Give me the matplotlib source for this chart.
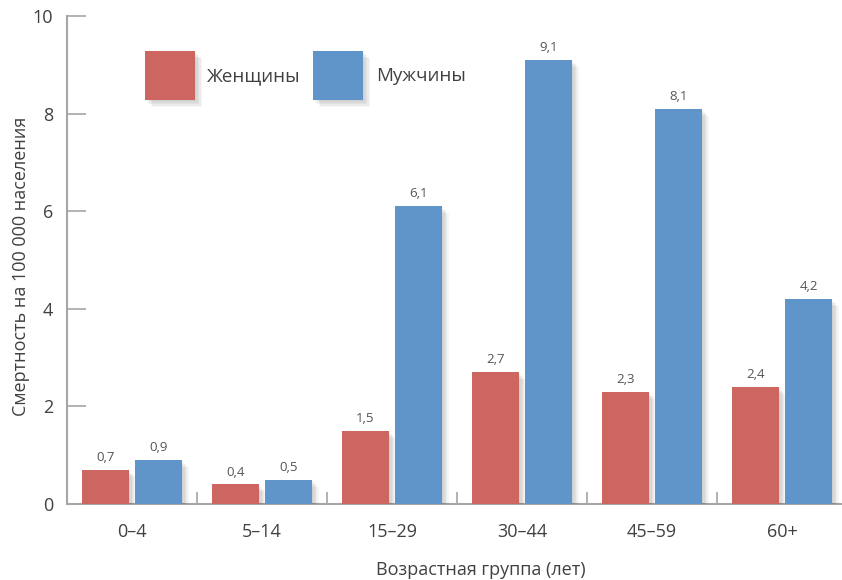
import matplotlib
matplotlib.use("Agg")
import matplotlib.pyplot as plt
import matplotlib.patheffects as pe
from matplotlib.patches import Rectangle
import numpy as np

plt.rcParams['font.family'] = ['Open Sans', 'DejaVu Sans']

categories = ["0–4", "5–14", "15–29", "30–44", "45–59", "60+"]
women = [0.7, 0.4, 1.5, 2.7, 2.3, 2.4]
men = [0.9, 0.5, 6.1, 9.1, 8.1, 4.2]
series_names = ["Женщины", "Мужчины"]
y_label = "Смертность на 100 000 населения"
x_label = "Возрастная группа (лет)"

RED = "#cd6660"
BLUE = "#5f95c8"
TEXT = "#404040"
AXIS = "#a6a6a6"

fig = plt.figure(figsize=(8.42, 5.8), dpi=100)
ax = fig.add_axes([67 / 842, 1 - 504 / 580, 780 / 842, (504 - 16) / 580])

x = np.arange(len(categories))
w = 0.36
off = 0.204

# soft drop shadow built from a few faint offset copies
shadow = [pe.SimplePatchShadow(offset=(d, -d), shadow_rgbFace="#000000", alpha=0.04)
          for d in (1, 2, 3, 4, 5)] + [pe.Normal()]

for vals, dx, col in ((women, -off, RED), (men, off, BLUE)):
    bars = ax.bar(x + dx, vals, width=w, color=col, zorder=3)
    for b, v in zip(bars, vals):
        b.set_path_effects(shadow)
        ax.text(b.get_x() + b.get_width() / 2, v + 0.12, f"{v:.1f}".replace(".", ","),
                ha="center", va="bottom", fontsize=9.5, color="#555555")

ax.set_xlim(-0.5, len(categories) - 0.5)
ax.set_ylim(0, 10)
ax.set_yticks([0, 2, 4, 6, 8, 10])
ax.set_xticks(x)
ax.set_xticklabels(categories)
ax.set_xticks(np.arange(0.5, len(categories) - 0.5, 1), minor=True)

for s in ("top", "right"):
    ax.spines[s].set_visible(False)
for s in ("left", "bottom"):
    ax.spines[s].set_color(AXIS)
    ax.spines[s].set_linewidth(1.5)

ax.tick_params(axis="y", direction="in", length=14, width=1.2, color=AXIS,
               labelsize=13, labelcolor=TEXT, pad=10)
ax.tick_params(axis="x", which="major", length=0, labelsize=13, labelcolor=TEXT, pad=14)
ax.tick_params(axis="x", which="minor", direction="in", length=9, width=1.2, color=AXIS)

ax.set_ylabel(y_label, fontsize=13, color=TEXT, labelpad=2)
ax.set_xlabel(x_label, fontsize=13, color=TEXT, labelpad=14)
ax.xaxis.label.set_x(0.53)
ax.yaxis.label.set_y(0.487)

# Legend: large colour squares with labels
leg_items = [(145, RED, series_names[0], 207), (313, BLUE, series_names[1], 376)]
for px, col, name, tx in leg_items:
    r = Rectangle((px / 842, 1 - 100 / 580), 50 / 842, 49 / 580, transform=fig.transFigure,
                  facecolor=col, edgecolor="none", zorder=5)
    r.set_path_effects(shadow)
    fig.add_artist(r)
    fig.text(tx / 842, 1 - 76 / 580, name, fontsize=13.5, color=TEXT, va="center", ha="left")

fig.savefig("out.png", dpi=100)
